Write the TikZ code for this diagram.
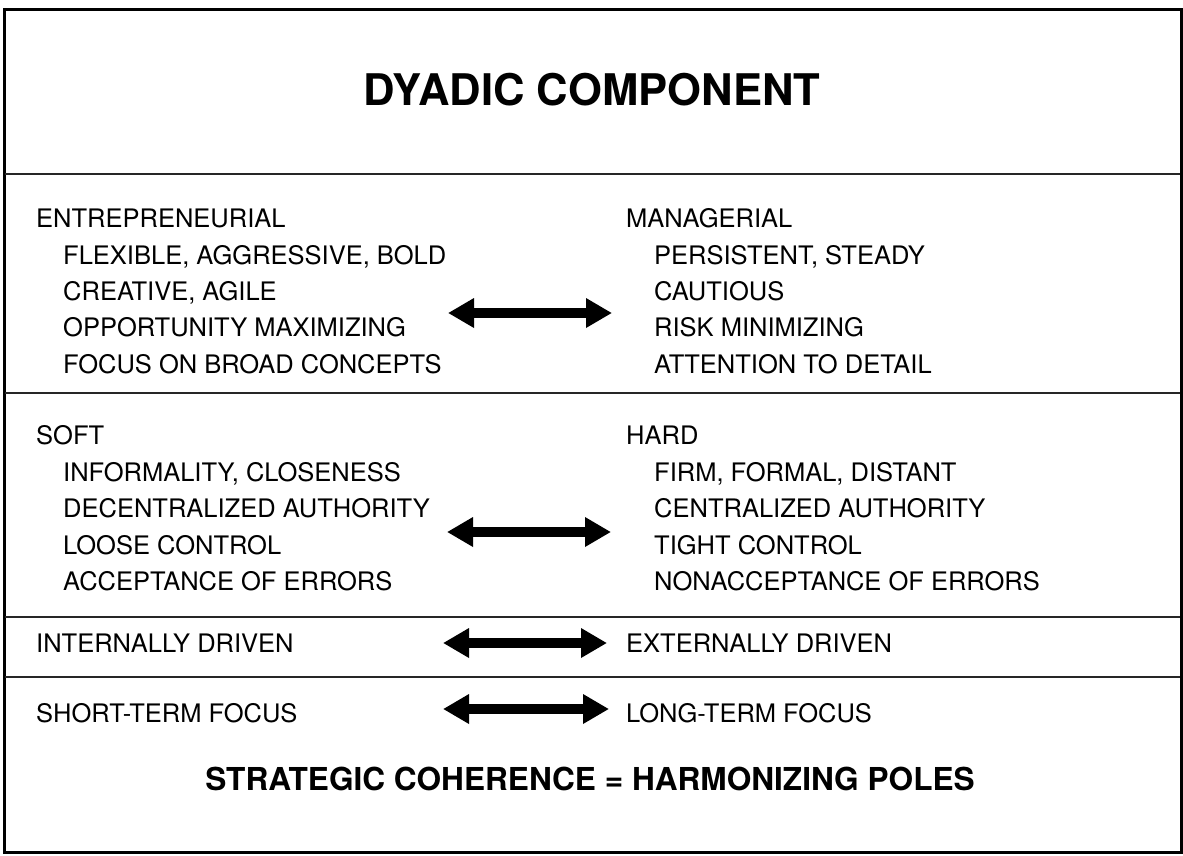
\documentclass[tikz,border=0pt]{standalone}
\usepackage{fontspec}
\setmainfont{TeX Gyre Heros}
\usetikzlibrary{arrows.meta}
\tikzset{
  body/.style={anchor=base west, inner sep=0pt, font=\fontsize{25.5}{30}\selectfont},
  big/.style={anchor=base, inner sep=0pt, font=\bfseries\fontsize{43.6}{50}\selectfont},
  bigtwo/.style={anchor=base, inner sep=0pt, font=\bfseries\fontsize{31.6}{38}\selectfont},
  sep/.style={line width=1.3pt, draw=black!85},
  frame/.style={line width=3pt, draw=black},
  dbl/.style={line width=10pt, {Triangle[length=26pt,width=28pt]}-{Triangle[length=26pt,width=28pt]}}
}
\begin{document}
\begin{tikzpicture}[x=1pt,y=-1pt]
\useasboundingbox (0,0) rectangle (1183,855);
\draw[frame] (4,9) rectangle (1181,852);
\draw[sep] (5,174) -- (1180,174);
\draw[sep] (5,393) -- (1180,393);
\draw[sep] (5,617) -- (1180,617);
\draw[sep] (5,677) -- (1180,677);

\node[big] (title) at (592,105) {DYADIC COMPONENT};

\node[body] (ent) at (36,227) {ENTREPRENEURIAL};
\node[body] (e1) at (63,264) {FLEXIBLE, AGGRESSIVE, BOLD};
\node[body] (e2) at (63,300) {CREATIVE, AGILE};
\node[body] (e3) at (63,336) {OPPORTUNITY MAXIMIZING};
\node[body] (e4) at (63,373) {FOCUS ON BROAD CONCEPTS};
\node[body] (man) at (626,227) {MANAGERIAL};
\node[body] (m1) at (654,264) {PERSISTENT, STEADY};
\node[body] (m2) at (654,300) {CAUTIOUS};
\node[body] (m3) at (654,336) {RISK MINIMIZING};
\node[body] (m4) at (654,373) {ATTENTION TO DETAIL};

\node[body] (soft) at (36,444) {SOFT};
\node[body] (s1) at (63,481) {INFORMALITY, CLOSENESS};
\node[body] (s2) at (63,517) {DECENTRALIZED AUTHORITY};
\node[body] (s3) at (63,554) {LOOSE CONTROL};
\node[body] (s4) at (63,590) {ACCEPTANCE OF ERRORS};
\node[body] (hard) at (626,444) {HARD};
\node[body] (h1) at (654,481) {FIRM, FORMAL, DISTANT};
\node[body] (h2) at (654,517) {CENTRALIZED AUTHORITY};
\node[body] (h3) at (654,554) {TIGHT CONTROL};
\node[body] (h4) at (654,590) {NONACCEPTANCE OF ERRORS};

\node[body] (int) at (36,652) {INTERNALLY DRIVEN};
\node[body] (ext) at (626,652) {EXTERNALLY DRIVEN};
\node[body] (st) at (36,722) {SHORT-TERM FOCUS};
\node[body] (lt) at (626,722) {LONG-TERM FOCUS};

\node[bigtwo] (coh) at (590,790) {STRATEGIC COHERENCE = HARMONIZING POLES};

\coordinate (a1l) at (448,313); \coordinate (a1r) at (612,313);
\coordinate (a2l) at (447,532); \coordinate (a2r) at (611,532);
\coordinate (a3l) at (443,643); \coordinate (a3r) at (607,643);
\coordinate (a4l) at (443,709); \coordinate (a4r) at (609,709);
\draw[dbl] (a1l) -- (a1r);
\draw[dbl] (a2l) -- (a2r);
\draw[dbl] (a3l) -- (a3r);
\draw[dbl] (a4l) -- (a4r);
\end{tikzpicture}
\end{document}
